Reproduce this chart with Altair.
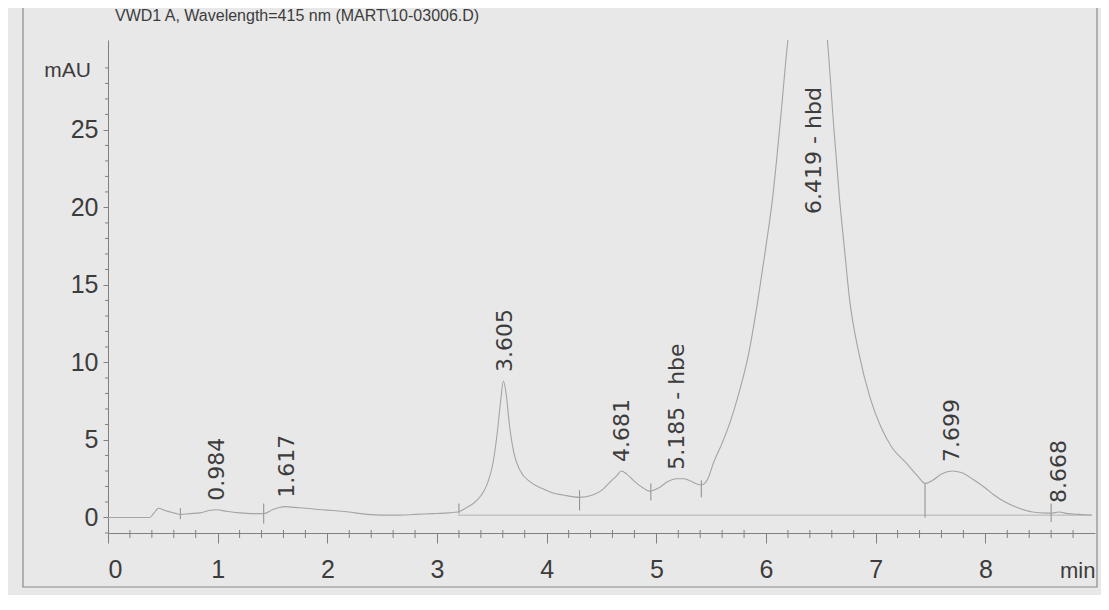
import altair as alt
import pandas as pd

# ---- chromatogram trace (time in min, signal in mAU) ----
trace_t = [0.00, 0.20, 0.38, 0.42, 0.46, 0.52, 0.60, 0.66, 0.75, 0.84, 0.92, 0.99,
           1.08, 1.20, 1.32, 1.42, 1.50, 1.56, 1.62, 1.70, 1.80, 1.95, 2.05, 2.20,
           2.36, 2.50, 2.66, 2.80, 2.96, 3.10, 3.19, 3.26, 3.33, 3.40, 3.46, 3.51,
           3.55, 3.58, 3.605, 3.63, 3.66, 3.70, 3.76, 3.85, 3.95, 4.05, 4.15, 4.30,
           4.42, 4.51, 4.58, 4.64, 4.68, 4.73, 4.79, 4.87, 4.94, 5.02, 5.10, 5.185,
           5.25, 5.31, 5.41, 5.47, 5.52, 5.60, 5.68, 5.74, 5.84, 5.93, 6.00, 6.06,
           6.13, 6.20, 6.30, 6.42, 6.50, 6.56, 6.62, 6.67, 6.72, 6.76, 6.85, 6.95,
           7.05, 7.15, 7.28, 7.38, 7.45, 7.52, 7.60, 7.70, 7.78, 7.90, 8.00, 8.07,
           8.18, 8.29, 8.43, 8.55, 8.60, 8.67, 8.75, 8.85, 8.97]
trace_v = [0.00, 0.00, 0.00, 0.30, 0.60, 0.45, 0.30, 0.20, 0.25, 0.30, 0.45, 0.50,
           0.40, 0.30, 0.25, 0.25, 0.50, 0.65, 0.70, 0.65, 0.60, 0.50, 0.45, 0.35,
           0.20, 0.15, 0.15, 0.20, 0.25, 0.30, 0.35, 0.60, 0.90, 1.40, 2.20, 3.50,
           5.50, 7.50, 8.80, 8.00, 6.00, 4.20, 3.00, 2.30, 1.90, 1.60, 1.45, 1.30,
           1.45, 1.80, 2.30, 2.70, 3.00, 2.80, 2.40, 1.95, 1.70, 1.90, 2.30, 2.50,
           2.50, 2.35, 2.10, 2.50, 3.50, 4.80, 6.30, 7.70, 10.5, 14.2, 17.5, 20.6,
           25.5, 30.8, 35.0, 37.0, 35.0, 30.8, 25.0, 20.6, 17.0, 14.2, 10.5, 7.70,
           5.80, 4.50, 3.50, 2.70, 2.20, 2.40, 2.80, 3.00, 2.90, 2.40, 1.90, 1.50,
           1.00, 0.65, 0.35, 0.28, 0.28, 0.35, 0.25, 0.20, 0.15]

# ---- peak labels ----
peak_labels = ["0.984", "1.617", "3.605", "4.681", "5.185 - hbe", "6.419 - hbd",
               "7.699", "8.668"]
peak_t = [0.99, 1.63, 3.62, 4.69, 5.19, 6.44, 7.70, 8.67]
peak_v = [0.5, 0.7, 8.8, 3.0, 2.5, 37.0, 3.0, 0.35]

# ---- integration event marks (time, top, bottom in mAU) ----
event_t = [0.66, 1.42, 3.20, 4.30, 4.95, 5.41, 7.45, 8.60]
event_top = [0.6, 0.9, 0.9, 1.75, 2.2, 2.4, 2.2, 0.9]
event_bot = [-0.1, -0.4, 0.25, 0.45, 1.1, 1.3, 0.0, -0.3]

# ---- integration baseline ----
base_t0 = [3.19]
base_t1 = [8.97]
base_v = [0.15]

# ---- axis ticks ----
x_major = [0, 1, 2, 3, 4, 5, 6, 7, 8]
y_major = [0, 5, 10, 15, 20, 25]
x_minor = [round(i * 0.2, 1) for i in range(1, 45) if i % 5 != 0]
y_minor = [i for i in range(-1, 31) if i % 5 != 0]

title_text = ["VWD1 A, Wavelength=415 nm (MART\\10-03006.D)"]

INK = "#3c3c3c"
TRACE = "#a4a4a4"
AXIS = "#808080"
SANS = "'Liberation Sans', Arial, sans-serif"

trace_df = pd.DataFrame({"t": trace_t, "v": trace_v})
label_df = pd.DataFrame({"label": peak_labels, "t": peak_t,
                         "v": [min(v, 19.0) for v in peak_v]})
event_df = pd.DataFrame({"t": event_t, "top": event_top, "bot": event_bot})
base_df = pd.DataFrame({"t0": base_t0, "t1": base_t1, "v": base_v})
xminor_df = pd.DataFrame({"t": x_minor})
yminor_df = pd.DataFrame({"v": y_minor})
title_df = pd.DataFrame({"title": title_text})

xscale = alt.Scale(domain=[0, 9], nice=False, zero=False)
yscale = alt.Scale(domain=[-1, 30.8], nice=False, zero=False)

x_axis = alt.Axis(values=x_major, format="d", grid=False, tickSize=10,
                  tickColor=AXIS, domainColor=AXIS, labelFont=SANS,
                  labelFontSize=25, labelColor=INK, labelPadding=14,
                  title="min", titleFont=SANS, titleFontSize=22,
                  titleFontWeight="normal", titleColor=INK, titleAngle=0,
                  titleX=987, titleY=37, titleAlign="right",
                  titleBaseline="middle")
y_axis = alt.Axis(values=y_major, format="d", grid=False, tickSize=5,
                  tickColor=AXIS, domainColor=AXIS, labelFont=SANS,
                  labelFontSize=25, labelColor=INK, labelPadding=5,
                  title="mAU", titleFont=SANS, titleFontSize=21,
                  titleFontWeight="normal", titleColor=INK, titleAngle=0,
                  titleX=-41, titleY=30, titleAlign="center",
                  titleBaseline="middle")

trace = alt.Chart(trace_df).mark_line(
    clip=True, interpolate="monotone", color=TRACE, strokeWidth=1.1
).encode(
    x=alt.X("t:Q", scale=xscale, axis=x_axis),
    y=alt.Y("v:Q", scale=yscale, axis=y_axis),
)

baseline = alt.Chart(base_df).mark_rule(color="#b4b4b4", strokeWidth=1).encode(
    x=alt.X("t0:Q", scale=xscale), x2="t1:Q",
    y=alt.Y("v:Q", scale=yscale),
)

events = alt.Chart(event_df).mark_rule(color="#8c8c8c", strokeWidth=1).encode(
    x=alt.X("t:Q", scale=xscale),
    y=alt.Y("top:Q", scale=yscale), y2="bot:Q",
)

labels = alt.Chart(label_df).mark_text(
    angle=270, align="left", baseline="middle", dx=9,
    font="'DejaVu Sans', sans-serif", fontSize=22, color=INK
).encode(
    x=alt.X("t:Q", scale=xscale),
    y=alt.Y("v:Q", scale=yscale),
    text="label:N",
)

x_minor_ticks = alt.Chart(xminor_df).mark_rule(color=AXIS, strokeWidth=1).encode(
    x=alt.X("t:Q", scale=xscale), y=alt.value(490), y2=alt.value(498),
)

y_minor_ticks = alt.Chart(yminor_df).mark_rule(color=AXIS, strokeWidth=1).encode(
    y=alt.Y("v:Q", scale=yscale), x=alt.value(-3), x2=alt.value(0),
)

frame = alt.Chart(pd.DataFrame({"a": [0]})).mark_rect(
    filled=False, stroke="#8a8a8a", strokeWidth=1.2
).encode(
    x=alt.value(-85), x2=alt.value(989), y=alt.value(-38), y2=alt.value(547),
)

title = alt.Chart(title_df).mark_text(
    align="left", baseline="middle", font=SANS, fontSize=16, color=INK
).encode(
    x=alt.value(7), y=alt.value(-24), text="title:N",
)

chart = alt.layer(
    frame, baseline, events, trace, labels, x_minor_ticks, y_minor_ticks, title
).properties(
    width=987, height=493,
    autosize=alt.AutoSizeParams(type="none"),
    padding={"left": 100, "top": 32, "right": 6, "bottom": 62},
    background="#e8e8e8",
).configure_view(stroke=None)

chart.save("out.html", embed_options={"renderer": "svg", "actions": False})
